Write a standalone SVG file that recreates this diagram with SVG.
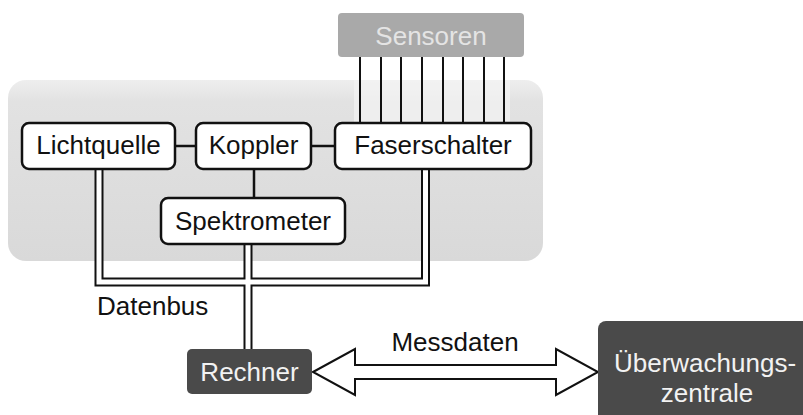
<svg xmlns="http://www.w3.org/2000/svg" width="803" height="415" viewBox="0 0 803 415">
<defs>
<linearGradient id="panelGrad" x1="0" y1="0" x2="0" y2="1">
<stop offset="0" stop-color="#eeeeee"/>
<stop offset="0.12" stop-color="#e2e2e2"/>
<stop offset="1" stop-color="#d9d9d9"/>
</linearGradient>
<style>
text{font-family:"Liberation Sans",Arial,sans-serif;font-size:26px;text-anchor:middle}
.box{fill:#ffffff;stroke:#111111;stroke-width:2.5}
.dark{fill:#4a4a4a}
.lbl{fill:#111111}
.wlbl{fill:#f2f2f2}
.single{fill:none;stroke:#111111;stroke-width:2.5}
.fiber{fill:none;stroke:#111111;stroke-width:2}
.busOuter{fill:none;stroke:#111111;stroke-width:9;stroke-linejoin:miter}
.busInner{fill:none;stroke:#ffffff;stroke-width:5;stroke-linejoin:miter}
</style>
</defs>
<rect width="803" height="415" fill="#ffffff"/>
<g id="panel">
<rect x="8" y="80" width="535" height="181" rx="18" fill="url(#panelGrad)"/>
<rect x="354" y="80" width="156" height="43" fill="#f4f4f4" opacity="0.7"/>
</g>
<g id="connectors">
<g class="fiber">
<line x1="360" y1="57" x2="360" y2="123"/>
<line x1="381" y1="57" x2="381" y2="123"/>
<line x1="401" y1="57" x2="401" y2="123"/>
<line x1="422" y1="57" x2="422" y2="123"/>
<line x1="443" y1="57" x2="443" y2="123"/>
<line x1="463" y1="57" x2="463" y2="123"/>
<line x1="484" y1="57" x2="484" y2="123"/>
<line x1="504" y1="57" x2="504" y2="123"/>
</g>
<line class="single" x1="175" y1="146" x2="196" y2="146"/>
<line class="single" x1="311" y1="146" x2="335" y2="146"/>
<line class="single" x1="254" y1="169" x2="254" y2="198"/>
<path class="busOuter" d="M99 169 V282 H425.5 V169 M248 244 V349"/>
<path class="busInner" d="M99 169 V282 H425.5 V169 M248 244 V349"/>
<path d="M313 372 L355 349 L355 365 L556 365 L556 349 L598 372 L556 395 L556 379 L355 379 L355 395 Z" fill="#ffffff" stroke="#111111" stroke-width="2" stroke-linejoin="miter"/>
</g>
<g id="sensoren">
<rect x="338" y="13" width="186" height="44" rx="4" fill="#a9a9a9"/>
<text x="431" y="45" fill="#e4e4e4">Sensoren</text>
</g>
<g id="lichtquelle">
<rect class="box" x="22" y="123" width="153" height="46" rx="7"/>
<text class="lbl" x="98.5" y="154">Lichtquelle</text>
</g>
<g id="koppler">
<rect class="box" x="196" y="123" width="115" height="46" rx="7"/>
<text class="lbl" x="253.5" y="154">Koppler</text>
</g>
<g id="faserschalter">
<rect class="box" x="335" y="123" width="196" height="46" rx="7"/>
<text class="lbl" x="433" y="154">Faserschalter</text>
</g>
<g id="spektrometer">
<rect class="box" x="161" y="198" width="184" height="46" rx="7"/>
<text class="lbl" x="253" y="230">Spektrometer</text>
</g>
<g id="datenbus-label">
<text class="lbl" x="97" y="315" style="text-anchor:start">Datenbus</text>
</g>
<g id="messdaten-label">
<text class="lbl" x="455" y="351">Messdaten</text>
</g>
<g id="rechner">
<rect class="dark" x="187" y="349" width="125" height="45" rx="5"/>
<text class="wlbl" x="249.5" y="381">Rechner</text>
</g>
<g id="ueberwachungszentrale">
<rect class="dark" x="598" y="321" width="220" height="110" rx="8"/>
<text class="wlbl" x="705" y="372">Überwachungs-</text>
<text class="wlbl" x="707" y="402">zentrale</text>
</g>
</svg>
